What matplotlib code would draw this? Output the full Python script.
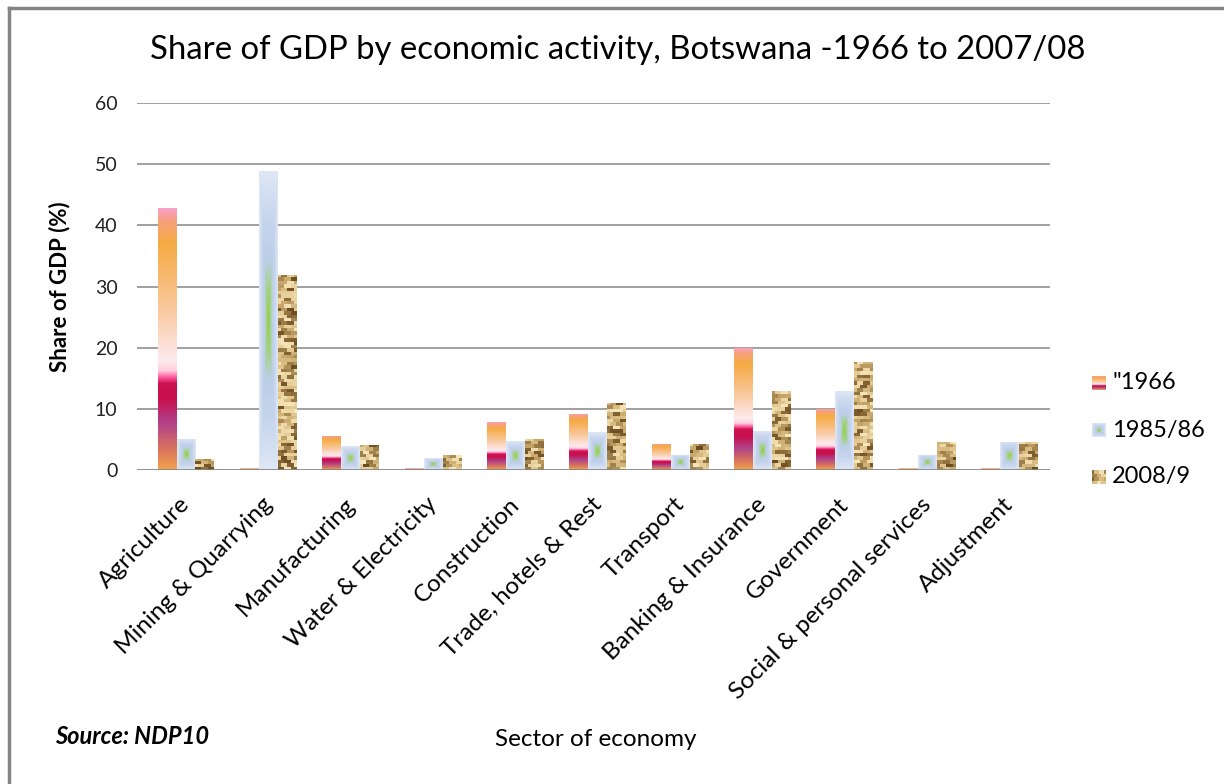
import matplotlib.pyplot as plt
import numpy as np
from matplotlib.colors import LinearSegmentedColormap
from matplotlib.lines import Line2D
from matplotlib.transforms import ScaledTranslation

plt.rcParams['font.family'] = ['Lato', 'DejaVu Sans']

sectors = ['Agriculture', 'Mining & Quarrying', 'Manufacturing', 'Water & Electricity',
           'Construction', 'Trade, hotels & Rest', 'Transport', 'Banking & Insurance',
           'Government', 'Social & personal services', 'Adjustment']
share_1966 = [42.8, 0.3, 5.6, 0.4, 7.8, 9.2, 4.3, 20.0, 10.0, 0.3, 0.3]
share_1985 = [5.1, 48.9, 3.9, 1.9, 4.7, 6.2, 2.5, 6.4, 12.9, 2.5, 4.6]
share_2008 = [1.8, 31.9, 4.1, 2.4, 5.1, 11.0, 4.3, 12.9, 17.7, 4.6, 4.6]
series_names = ['"1966', '1985/86', '2008/9']
yticks = [0, 10, 20, 30, 40, 50, 60]

# gradient / texture fills (Excel-like)
fire = LinearSegmentedColormap.from_list('fire', [
    (0.0, '#F2A24E'), (0.08, '#D8725E'), (0.18, '#B0428A'), (0.27, '#C8104E'),
    (0.33, '#CC1252'), (0.355, '#FF5FA0'), (0.38, '#FFD0E0'), (0.42, '#FDEAEE'),
    (0.6, '#F9CBA4'), (0.78, '#F7B462'), (0.87, '#F5AB43'), (0.95, '#F6A07A'),
    (1.0, '#F9A0C8')])
sky = LinearSegmentedColormap.from_list('sky', [
    (0.0, '#8CD050'), (0.2, '#A6D27E'), (0.4, '#BBCEE8'), (0.7, '#C8D6EE'),
    (1.0, '#DEE7F5')])
burlap = LinearSegmentedColormap.from_list('burlap', [
    (0.0, '#6A4A20'), (0.2, '#947440'), (0.45, '#C8A86C'), (0.7, '#E2C890'),
    (1.0, '#F6E6BC')])


def fire_img(h):
    return np.linspace(0, 1, 256).reshape(-1, 1)


def sky_img(h):
    u = np.abs(np.linspace(-1, 1, 40))
    v = np.abs(np.linspace(-1, 1, 80))
    return np.maximum(u[None, :], v[:, None])


def burlap_img(h, seed=0):
    # woven texture: short horizontal dashes, alternating offset per row
    rows = max(int(h * 6.1 / 3.4) + 1, 2)
    i = np.arange(rows)[:, None]
    j = np.arange(6)[None, :]
    jj = (j + (i % 2)) // 2 + seed * 5
    noise = np.sin(i * 12.9898 + jj * 78.233) * 43758.5453
    noise = noise - np.floor(noise)
    return noise


fig = plt.figure(figsize=(12.24, 7.84), dpi=100)
ax = fig.add_axes([137 / 1224, 1 - 470 / 784, 913 / 1224, 367 / 784])

x = np.arange(len(sectors))
w = 0.23
series = [share_1966, share_1985, share_2008]
fills = [(fire_img, fire, 'bilinear'), (sky_img, sky, 'bilinear'), (burlap_img, burlap, 'nearest')]

for s, (vals, (mk, cmap, interp)) in enumerate(zip(series, fills)):
    bars = ax.bar(x + (s - 1) * w, vals, width=w, color='none', linewidth=0, zorder=3)
    for k, b in enumerate(bars):
        x0, h = b.get_x(), b.get_height()
        arr = mk(h, k) if mk is burlap_img else mk(h)
        im = ax.imshow(arr, extent=[x0, x0 + w, 0, h], origin='lower', aspect='auto',
                       cmap=cmap, vmin=0, vmax=1, interpolation=interp, zorder=3)
        im.set_clip_path(b)

for t in yticks[1:]:
    ax.axhline(t, color='#868686', lw=1.1, zorder=1)
ax.axhline(0, color='#868686', lw=2, zorder=4)

ax.set_xlim(-0.595, 10.492)
ax.set_ylim(0, 60)
ax.set_yticks(yticks)
ax.set_xticks(x)
ax.set_xticklabels(sectors, rotation=45, ha='right', va='top', rotation_mode='anchor', fontsize=17.5)
ax.tick_params(axis='x', length=0, pad=17)
ax.tick_params(axis='y', length=0, pad=14, labelsize=14, labelcolor='#222222')
shift = ScaledTranslation(-0.07, 0, fig.dpi_scale_trans)
for lbl in ax.get_xticklabels():
    lbl.set_transform(lbl.get_transform() + shift)
for sp in ax.spines.values():
    sp.set_visible(False)

# legend swatches
leg_y = [383, 430, 477]
for name, yy, (mk, cmap, interp) in zip(series_names, leg_y, fills):
    lax = fig.add_axes([1092 / 1224, 1 - (yy + 7) / 784, 14 / 1224, 14 / 784])
    arr = mk(2.2, 3) if mk is burlap_img else mk(3)
    lax.imshow(arr, extent=[0, 1, 0, 1], origin='lower', aspect='auto', cmap=cmap,
               vmin=0, vmax=1, interpolation=interp)
    lax.axis('off')
    fig.text(1112 / 1224, 1 - yy / 784, name, fontsize=17, va='center', ha='left')

fig.text(618 / 1224, 1 - 50 / 784, 'Share of GDP by economic activity, Botswana -1966 to 2007/08',
         fontsize=23.7, ha='center', va='center')
fig.text(60 / 1224, 1 - 287 / 784, 'Share of GDP (%)', rotation=90, fontsize=16,
         fontweight='bold', ha='center', va='center')
fig.text(596 / 1224, 1 - 740 / 784, 'Sector of economy', fontsize=17.5, ha='center', va='center')
fig.text(55 / 1224, 1 - 737 / 784, 'Source: NDP10', fontsize=17, style='italic',
         fontweight='bold', ha='left', va='center')

# outer frame (top and left edges visible)
fig.add_artist(Line2D([9 / 1224, 9 / 1224], [0, 1 - 8 / 784], transform=fig.transFigure,
                      color='#848484', lw=2.5))
fig.add_artist(Line2D([9 / 1224, 1], [1 - 8 / 784, 1 - 8 / 784], transform=fig.transFigure,
                      color='#848484', lw=2.5))

fig.savefig('out.png', dpi=100)
